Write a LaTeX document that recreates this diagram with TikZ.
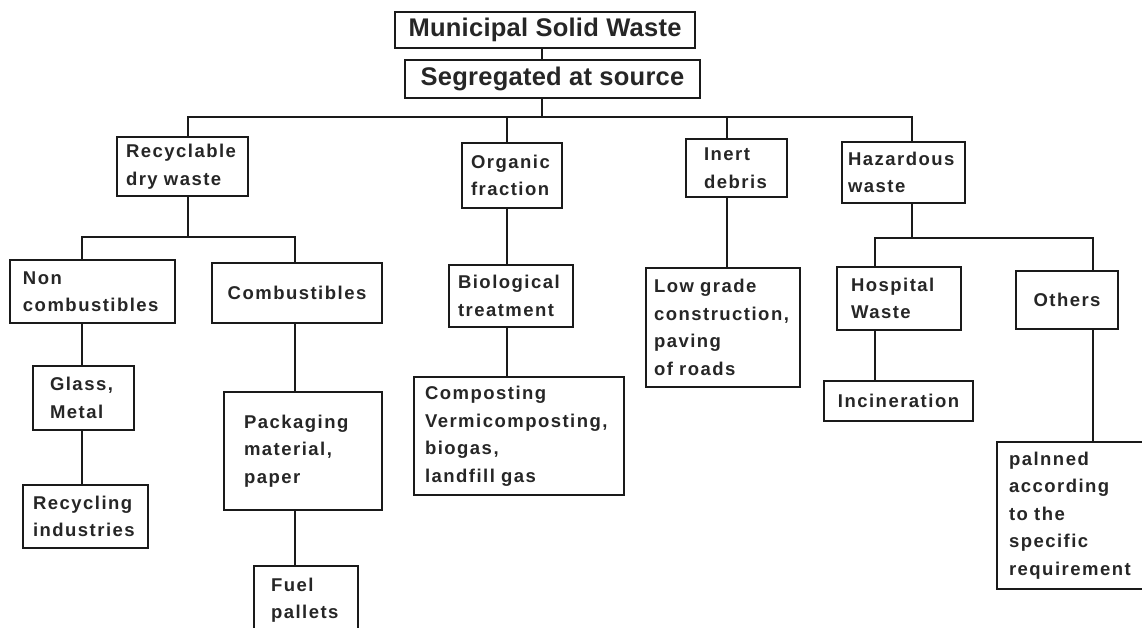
\documentclass[tikz,border=0pt]{standalone}
\usepackage{fontspec}
\newfontfamily\lbl{Liberation Sans Bold}[LetterSpace=8]
\newfontfamily\lblbig{Liberation Sans Bold}[LetterSpace=1]
\definecolor{ink}{HTML}{1A1A1A}
\definecolor{txt}{HTML}{262626}
\tikzset{
  box/.style={draw=ink, line width=2.4pt, rectangle, inner ysep=0pt, text=txt,
    font=\lbl\fontsize{18.5}{27.5}\selectfont},
  lbox/.style n args={4}{box, align=left, minimum width=#1, minimum height=#2, inner xsep=#3, text width=#4},
  cbox/.style 2 args={box, align=center, minimum width=#1, minimum height=#2, inner xsep=0pt},
  bigbox/.style 2 args={cbox={#1}{#2}, line width=2.7pt, font=\lblbig\fontsize{25.5}{28}\selectfont},
  link/.style={draw=ink, line width=1.5pt}
}
\begin{document}
\begin{tikzpicture}[x=1pt,y=-1pt]
\useasboundingbox (0,0) rectangle (1142,627);
\clip (0,0) rectangle (1142,627);
\fill[white] (0,0) rectangle (1142,627);

% top
\node[bigbox={300pt}{36pt}] (msw) at (545,30) {Municipal Solid Waste};
\node[bigbox={295pt}{38pt}] (sas) at (552.5,79) {Segregated at source};

% level 1
\node[lbox={131pt}{59pt}{9pt}{113pt}] (rec) at (182.5,166.5) {Recyclable\\dry waste};
\node[lbox={100pt}{65pt}{9pt}{82pt}] (org) at (512,175.5) {Organic\\fraction};
\node[lbox={101pt}{58pt}{18pt}{65pt}] (inert) at (736.5,168) {Inert\\debris};
\node[lbox={123pt}{61pt}{6pt}{111pt}] (haz) at (903.5,172.5) {Hazardous\\waste};

% level 2
\node[lbox={165pt}{63pt}{13pt}{139pt}] (noncomb) at (92.5,291.5) {Non\\combustibles};
\node[cbox={170pt}{60pt}] (comb) at (297,293) {Combustibles};
\node[lbox={124pt}{62pt}{9pt}{106pt}] (bio) at (511,296) {Biological\\treatment};
\node[lbox={154pt}{119pt}{8pt}{138pt}] (low) at (723,327.5) {Low grade\\construction,\\paving\\of roads};
\node[lbox={124pt}{63pt}{14pt}{96pt}] (hosp) at (899,298.5) {Hospital\\Waste};
\node[cbox={102pt}{58pt}] (others) at (1067,300) {Others};

% level 3
\node[lbox={101pt}{64pt}{17pt}{67pt}] (glass) at (83.5,398) {Glass,\\Metal};
\node[lbox={158pt}{118pt}{20pt}{118pt}] (pack) at (303,451) {Packaging\\material,\\paper};
\node[lbox={210pt}{118pt}{11pt}{188pt}] (comp) at (519,436) {Composting\\Vermicomposting,\\biogas,\\landfill gas};
\node[cbox={149pt}{40pt}] (incin) at (898.5,401) {Incineration};
\node[lbox={148pt}{147pt}{12pt}{124pt}] (plan) at (1071,515.5) {palnned\\according\\to the\\specific\\requirement};

% level 4
\node[lbox={125pt}{63pt}{10pt}{105pt}] (recind) at (85.5,516.5) {Recycling\\industries};
\node[lbox={104pt}{68pt}{17pt}{70pt}] (fuel) at (306,600) {Fuel\\pallets};

% junction points
\coordinate (bus) at (542,117);
\coordinate (busL) at (188,117);
\coordinate (busR) at (912,117);
\coordinate (bo) at (507,117);
\coordinate (bi) at (727,117);
\coordinate (r1) at (82,237);
\coordinate (r2) at (295,237);
\coordinate (h1) at (875,238);
\coordinate (h2) at (1093,238);

% connectors
\draw[link] (msw.south -| bus) -- (sas.north -| bus);
\draw[link] (sas.south -| bus) -- (bus);
\draw[link] (rec.north -| busL) -- (busL) -- (busR) -- (haz.north -| busR);
\draw[link] (bo) -- (org.north -| bo);
\draw[link] (bi) -- (inert.north -| bi);

\draw[link] (rec.south -| busL) -- (busL |- r1);
\draw[link] (noncomb.north -| r1) -- (r1) -- (r2) -- (comb.north -| r2);
\draw[link] (noncomb.south -| r1) -- (glass.north -| r1);
\draw[link] (glass.south -| r1) -- (recind.north -| r1);
\draw[link] (comb.south -| r2) -- (pack.north -| r2);
\draw[link] (pack.south -| r2) -- (fuel.north -| r2);

\draw[link] (org.south -| bo) -- (bio.north -| bo);
\draw[link] (bio.south -| bo) -- (comp.north -| bo);
\draw[link] (inert.south -| bi) -- (low.north -| bi);

\draw[link] (haz.south -| busR) -- (busR |- h1);
\draw[link] (hosp.north -| h1) -- (h1) -- (h2) -- (others.north -| h2);
\draw[link] (hosp.south -| h1) -- (incin.north -| h1);
\draw[link] (others.south -| h2) -- (plan.north -| h2);
\end{tikzpicture}
\end{document}
